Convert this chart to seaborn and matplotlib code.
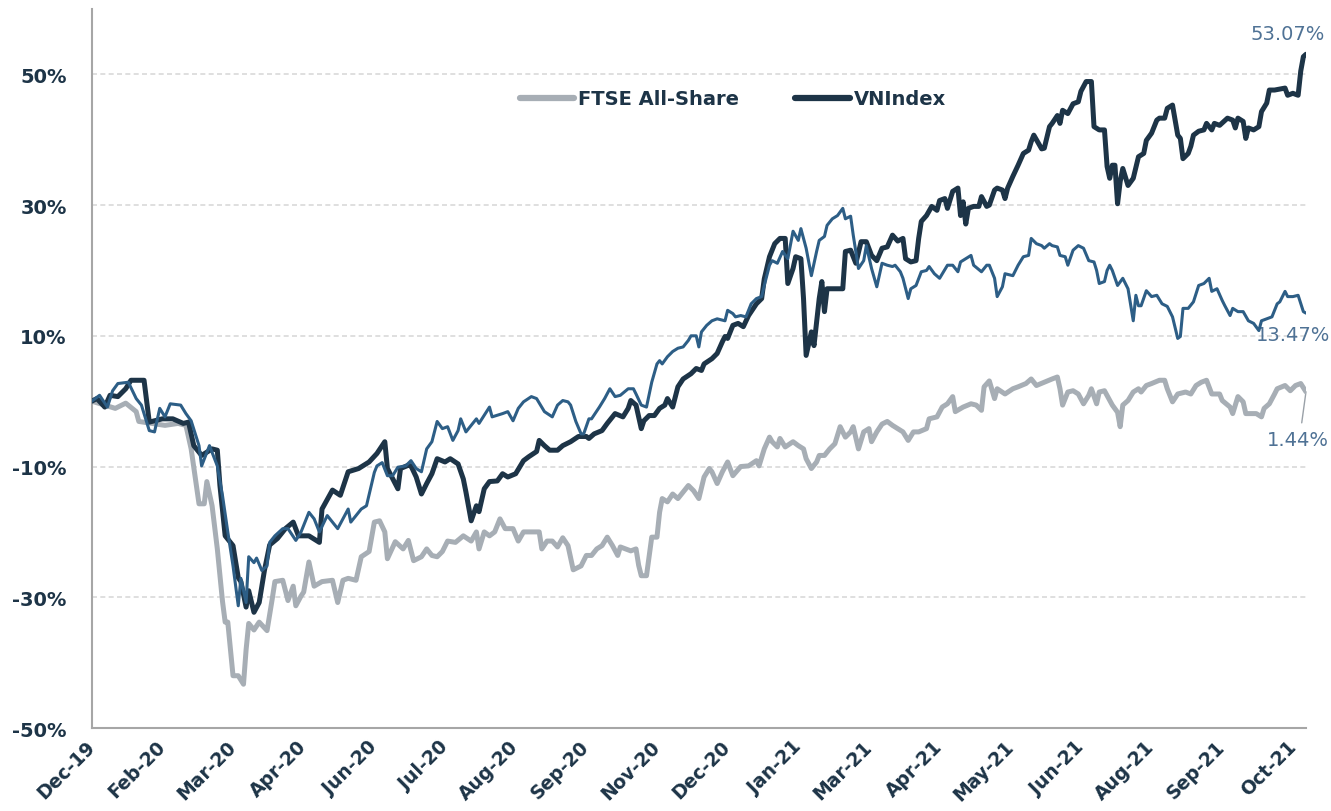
import pandas as pd
import numpy as np
import matplotlib
matplotlib.use("Agg")
import matplotlib.pyplot as plt
import seaborn as sns
from matplotlib.lines import Line2D

# x = trading session index since 31-Dec-2019, y = cumulative return in %
tick_labels = ['Dec-19', 'Feb-20', 'Mar-20', 'Apr-20', 'Jun-20', 'Jul-20', 'Aug-20', 'Sep-20', 'Nov-20',
               'Dec-20', 'Jan-21', 'Mar-21', 'Apr-21', 'May-21', 'Jun-21', 'Aug-21', 'Sep-21', 'Oct-21']
tick_step = 27
y_ticks = [-50, -30, -10, 10, 30, 50]

ftse_pts = [
    (0, 0), (5, -0.6), (9, -1.1), (13, -0.3), (17, -1.6), (18, -3.1), (23, -3.4), (28, -3.7), (33, -3.4),
    (36, -3.7), (38, -7.3), (41, -15.7), (43, -15.7), (44, -12.3), (46, -16), (48, -22.6), (50, -30.7),
    (51, -33.8), (52, -33.8), (54, -42), (56, -42), (58, -43.3), (59, -38), (60, -34), (62, -35), (64, -33.8),
    (67, -35.1), (69, -30.2), (70, -27.6), (73, -27.4), (75, -30.5), (77, -28.3), (78, -31.3), (80, -29.8),
    (81, -29.2), (83, -24.6), (85, -28.3), (88, -27.6), (92, -27.4), (94, -30.8), (96, -27.4), (98, -27.1),
    (101, -27.4), (103, -23.8), (106, -23), (108, -18.5), (110, -18.3), (112, -20), (113, -24.1), (116, -21.5),
    (119, -22.6), (121, -21.3), (123, -24.4), (126, -23.8), (128, -22.6), (130, -23.6), (132, -23.8), (134, -23),
    (136, -21.4), (139, -21.6), (142, -20.6), (145, -21.4), (147, -20), (148, -22.6), (150, -20), (152, -20.6),
    (154, -20), (156, -18), (158, -19.5), (161, -19.5), (163, -21.4), (165, -20), (168, -20), (171, -20),
    (172, -22.6), (174, -21.4), (176, -21.4), (178, -22.3), (180, -20.9), (182, -22.1), (184, -25.8),
    (187, -25.2), (189, -23.6), (191, -23.6), (193, -22.6), (195, -22.1), (197, -20.8), (199, -22.1),
    (201, -23.6), (202, -22.3), (204, -22.6), (206, -22.9), (208, -22.6), (209, -25.1), (210, -26.7),
    (212, -26.7), (214, -20.8), (216, -20.8), (217, -17), (218, -14.9), (220, -15.4), (222, -14.2), (224, -14.9),
    (226, -13.9), (228, -12.9), (230, -13.7), (232, -14.9), (234, -11.6), (236, -10.3), (237, -10.8),
    (239, -12.6), (241, -10.8), (243, -9.3), (245, -11.4), (248, -10), (251, -9.9), (254, -9.1), (255, -9.9),
    (257, -7.3), (259, -5.5), (260, -6.2), (262, -7), (263, -5.7), (265, -7), (268, -6.2), (270, -6.8),
    (272, -7.3), (273, -8.8), (275, -10.3), (277, -9.3), (278, -8.3), (280, -8.3), (282, -7.3), (284, -6.5),
    (286, -3.9), (288, -5.5), (290, -4.7), (291, -3.9), (293, -7.3), (295, -4.7), (297, -4.2), (298, -6.2),
    (300, -4.7), (302, -3.5), (304, -3.1), (306, -3.7), (308, -4.2), (310, -4.7), (312, -6), (314, -4.7),
    (316, -4.7), (319, -4.2), (320, -2.7), (323, -2.4), (325, -0.9), (327, -0.4), (329, 0.7), (330, -1.6),
    (333, -0.9), (336, -0.4), (338, -0.6), (340, -1.4), (341, 2.2), (343, 3.1), (345, 0.4), (346, 1.9),
    (349, 1.1), (352, 1.9), (354, 2.2), (357, 2.7), (359, 3.4), (361, 2.4), (364, 2.9), (367, 3.4), (369, 3.7),
    (370, 1.9), (371, -0.6), (373, 1.4), (375, 1.6), (377, 1.1), (379, -0.4), (381, 0.9), (382, 1.9),
    (384, -0.4), (385, 1.4), (387, 1.6), (390, -0.6), (392, -1.7), (393, -3.9), (394, -0.6), (396, 0.1),
    (398, 1.4), (400, 1.9), (401, 1.4), (403, 2.4), (405, 2.7), (408, 3.2), (410, 3.2), (411, 1.9), (413, -0.1),
    (415, 1.1), (418, 1.4), (420, 1.1), (422, 2.4), (424, 2.9), (426, 3.2), (428, 1.1), (431, 1.1), (432, 0.1),
    (435, -0.9), (436, -1.9), (438, 0.7), (440, -0.1), (441, -1.9), (444, -1.9), (445, -1.9), (447, -2.4),
    (448, -1.1), (450, -0.4), (452, 1.1), (453, 1.9), (456, 2.4), (458, 1.6), (460, 2.4), (462, 2.7),
    (464, 1.44),
]

vni_pts = [
    (0, 0), (2, 0.4), (5, -0.9), (7, 0.9), (10, 0.7), (13, 1.9), (15, 3.2), (20, 3.2), (22, -3.2), (27, -2.7),
    (31, -2.7), (35, -3.4), (37, -3.2), (39, -6.8), (42, -8.3), (46, -7.3), (48, -7.5), (49, -12.9), (51, -20.6),
    (54, -22.1), (56, -27), (57, -27.6), (59, -31.5), (60, -29), (62, -32.3), (64, -30.8), (66, -25.9),
    (68, -22), (71, -21), (74, -19.5), (77, -18.5), (79, -20.6), (83, -20.6), (87, -21.6), (88, -16.5),
    (92, -13.6), (95, -14.4), (98, -10.8), (102, -10.3), (106, -9.3), (109, -8), (112, -6.2), (113, -10.3),
    (117, -13.4), (118, -10.3), (121, -9.8), (122, -9.9), (124, -11.6), (126, -14.2), (128, -12.6),
    (130, -11.1), (132, -8.8), (135, -9.3), (137, -8.8), (140, -9.6), (142, -11.9), (143, -13.9), (145, -18.3),
    (147, -16), (148, -16.9), (150, -13.4), (152, -12.3), (155, -12.2), (157, -11.1), (159, -11.6),
    (162, -11.1), (165, -9.1), (167, -8.5), (170, -7.7), (171, -6), (173, -6.8), (175, -7.5), (178, -7.5),
    (180, -6.8), (183, -6.2), (186, -5.4), (189, -5.4), (190, -5.7), (192, -5), (195, -4.5), (197, -3.4),
    (200, -1.9), (203, -2.4), (205, -1.1), (206, 0.1), (208, -0.6), (210, -4.2), (211, -3), (213, -2.2),
    (215, -2.2), (217, -1.1), (219, -0.6), (220, 0.4), (222, -0.9), (224, 2.2), (226, 3.4), (229, 4.2),
    (231, 5), (233, 4.7), (234, 5.7), (237, 6.5), (239, 7.3), (241, 9.1), (242, 9.9), (243, 9.6), (245, 11.6),
    (247, 11.9), (249, 11.4), (251, 13.1), (254, 14.9), (256, 15.7), (257, 18.7), (259, 22.1), (261, 24.1),
    (263, 24.9), (265, 24.9), (266, 18), (268, 20.3), (269, 22.1), (271, 21.8), (272, 15.7), (273, 7),
    (275, 10.6), (276, 8.5), (278, 15.7), (279, 18.3), (280, 13.7), (281, 17.2), (284, 17.2), (287, 17.2),
    (288, 22.9), (290, 23.1), (292, 21.1), (294, 24.4), (296, 24.4), (298, 22.3), (300, 21.5), (302, 23.4),
    (304, 23.6), (306, 25.4), (308, 24.5), (310, 24.9), (311, 21.8), (313, 21.3), (315, 21.5), (316, 24.9),
    (317, 27.5), (319, 28.4), (321, 29.8), (323, 29.2), (324, 30.7), (326, 31), (327, 29.5), (329, 32.1),
    (331, 32.6), (332, 28.4), (333, 30.5), (334, 27.1), (335, 29.5), (337, 29.8), (339, 29.8), (340, 31.3),
    (342, 29.8), (343, 30), (345, 32.3), (346, 32.6), (348, 32.3), (349, 31), (350, 32.6), (352, 34.4),
    (354, 36.1), (356, 37.9), (358, 38.4), (359, 39.7), (360, 40.7), (363, 38.6), (364, 38.7), (366, 42),
    (367, 42.5), (369, 43.7), (370, 42.5), (371, 44.5), (373, 44), (375, 45.5), (377, 45.8), (378, 47.4),
    (380, 48.9), (382, 48.9), (383, 42), (385, 41.5), (387, 41.5), (388, 35.9), (389, 34.1), (390, 36.1),
    (391, 36.1), (392, 30.2), (393, 33.6), (394, 35.6), (396, 33), (398, 34.1), (400, 37.4), (402, 37.9),
    (403, 39.9), (405, 41), (407, 43), (408, 43.3), (410, 43.3), (411, 44.8), (413, 45.3), (415, 40.7),
    (416, 40.2), (417, 37.1), (419, 37.9), (420, 39), (421, 40.7), (423, 41.3), (425, 41.5), (426, 42.5),
    (428, 41.5), (429, 42.5), (431, 42.2), (434, 43.3), (436, 43), (437, 41.8), (438, 43.3), (440, 42.8),
    (441, 40.2), (442, 41.8), (444, 41.5), (446, 42), (447, 44.3), (449, 45.6), (450, 47.6), (452, 47.6),
    (456, 47.9), (457, 46.8), (459, 47.1), (461, 46.8), (462, 50.5), (463, 52.7), (464, 53.07),
]

other_pts = [
    (0, 0), (3, 0.9), (6, -0.9), (8, 1.6), (10, 2.7), (14, 2.9), (17, 0.4), (19, -0.6), (22, -4.5), (24, -4.7),
    (26, -1.1), (28, -2.4), (30, -0.4), (34, -0.6), (36, -1.9), (38, -3), (41, -6.8), (42, -9.9), (45, -6.8),
    (48, -9.9), (50, -14.5), (52, -20), (54, -25.2), (56, -31.3), (57, -27.1), (59, -30.8), (60, -23.8),
    (62, -24.7), (63, -24), (65, -25.9), (67, -25.2), (68, -21.6), (70, -20.6), (73, -19.5), (75, -19.5),
    (78, -21.3), (80, -20), (83, -17), (85, -18), (87, -20), (90, -17.5), (94, -19.5), (98, -16.5),
    (99, -18.5), (103, -16.5), (105, -16), (108, -10.9), (109, -9.9), (111, -9.4), (113, -11.4), (115, -11.4),
    (117, -10.1), (120, -9.9), (122, -9.1), (124, -10.3), (126, -10.8), (128, -7.3), (130, -6.2), (132, -3.1),
    (134, -4.2), (136, -3.9), (138, -6), (140, -4.5), (141, -2.7), (143, -4.7), (147, -2.7), (148, -3.4),
    (152, -0.9), (153, -2.4), (157, -1.9), (159, -1.6), (161, -3), (163, -1.1), (165, -0.1), (168, 0.7),
    (170, 0.4), (173, -1.6), (176, -2.4), (178, -0.6), (180, 0.1), (182, -0.1), (183, -0.6), (185, -3.1),
    (187, -5), (188, -5), (190, -2.7), (191, -2.7), (194, -0.9), (196, 0.4), (198, 1.9), (200, 0.7), (202, 0.9),
    (205, 1.9), (207, 1.9), (208, 1.1), (210, -0.6), (212, -0.9), (214, 2.9), (216, 5.7), (217, 6.2),
    (218, 5.7), (220, 6.8), (222, 7.6), (224, 8.1), (226, 8.3), (228, 9.3), (229, 10), (231, 10), (232, 8.3),
    (233, 10.6), (235, 11.6), (237, 12.3), (239, 12.6), (242, 12.3), (243, 13.9), (245, 13.4), (246, 12.9),
    (248, 13.1), (250, 12.9), (252, 14.9), (254, 15.7), (256, 16), (257, 17.7), (259, 20.8), (260, 21.5),
    (262, 21.1), (264, 22.9), (266, 21.8), (268, 26), (270, 24.6), (271, 26.4), (273, 23.4), (275, 19.2),
    (277, 22.9), (278, 24.6), (280, 25.2), (281, 26.9), (283, 27.9), (285, 28.4), (287, 29.5), (288, 27.9),
    (290, 28.3), (291, 25.4), (293, 20.3), (295, 21.5), (296, 23.8), (298, 20.3), (300, 17.5), (302, 21.1),
    (304, 20.8), (306, 20.6), (307, 20.8), (309, 19.8), (310, 18.8), (312, 15.7), (313, 17.2), (315, 17.7),
    (317, 19.8), (319, 20), (320, 20.6), (322, 19.5), (324, 18.8), (327, 20.8), (329, 20.8), (331, 19.8),
    (332, 21.3), (334, 21.8), (336, 22.3), (337, 20.8), (340, 19.8), (342, 20.8), (343, 20.8), (345, 18.8),
    (346, 16), (348, 17.5), (349, 19.5), (352, 19.2), (354, 20.8), (356, 22.1), (358, 22.3), (359, 24.9),
    (361, 24.1), (363, 23.8), (364, 23.4), (366, 24.1), (367, 23.8), (369, 23.6), (370, 22.3), (372, 22.1),
    (373, 20.8), (375, 23.1), (377, 23.8), (379, 23.4), (381, 21.5), (383, 21.3), (384, 20), (385, 18),
    (387, 18.3), (388, 20), (389, 20.8), (390, 20), (392, 17.7), (394, 18.8), (396, 17.2), (398, 12.3),
    (399, 16.2), (400, 14.6), (401, 14.6), (403, 16.9), (405, 16), (407, 16.2), (409, 14.9), (411, 14.5),
    (413, 12.9), (415, 9.6), (416, 9.9), (417, 14.2), (419, 14.2), (421, 15.2), (423, 17.7), (425, 18),
    (427, 18.8), (428, 16.8), (430, 17.2), (432, 15.4), (433, 14.6), (435, 13.1), (436, 14.2), (438, 13.7),
    (440, 13.7), (442, 12.3), (444, 11.9), (446, 10.8), (447, 12.3), (449, 12.6), (451, 12.9), (453, 14.9),
    (454, 15.2), (456, 16.8), (457, 16), (459, 16), (461, 16.2), (463, 13.7), (464, 13.47),
]

ftse = pd.DataFrame(ftse_pts, columns=['day', 'ret'])
vni = pd.DataFrame(vni_pts, columns=['day', 'ret'])
other = pd.DataFrame(other_pts, columns=['day', 'ret'])

gray = '#a7aeb5'
navy = '#1d3447'
blue = '#2d5e86'
txt = '#1d3447'
ann = '#4f7295'

sns.set_theme(style='white')
plt.rcParams['font.family'] = ['DejaVu Sans']

fig = plt.figure(figsize=(13.31, 8.12), dpi=100)
ax = fig.add_axes([0.0689, 0.1022, 0.9123, 0.8855])

ax.grid(axis='y', color='#d9d9d9', linestyle=(0, (3, 2)), linewidth=1.2)
ax.set_axisbelow(True)

sns.lineplot(data=ftse, x='day', y='ret', ax=ax, color=gray, linewidth=3.6, estimator=None, sort=False,
             legend=False, solid_joinstyle='round', zorder=3)
sns.lineplot(data=vni, x='day', y='ret', ax=ax, color=navy, linewidth=3.6, estimator=None, sort=False,
             legend=False, solid_joinstyle='round', zorder=4)
sns.lineplot(data=other, x='day', y='ret', ax=ax, color=blue, linewidth=2.2, estimator=None, sort=False,
             legend=False, solid_joinstyle='round', zorder=5)

ax.set_xlim(0, ftse['day'].max())
ax.set_ylim(-50, 60)

ax.set_xticks(np.arange(len(tick_labels)) * tick_step)
ax.set_xticklabels(tick_labels, rotation=45, ha='right', va='center', rotation_mode='anchor',
                   fontsize=13.5, fontweight='bold', color=txt)
ax.set_yticks(y_ticks)
ax.set_yticklabels([f'{v}%' for v in y_ticks], fontsize=14, fontweight='bold', color=txt)
ax.tick_params(axis='x', length=5, width=1.3, color='#a6a6a6', pad=6)
ax.tick_params(axis='y', length=0, pad=18)
ax.set_xlabel('')
ax.set_ylabel('')

for s in ['top', 'right']:
    ax.spines[s].set_visible(False)
for s in ['left', 'bottom']:
    ax.spines[s].set_color('#a6a6a6')
    ax.spines[s].set_linewidth(1.5)

handles = [Line2D([], [], color=gray, linewidth=4.5), Line2D([], [], color=navy, linewidth=4.5)]
leg = ax.legend(handles, ['FTSE All-Share', 'VNIndex'], loc='center', bbox_to_anchor=(0.528, 0.875),
                ncol=2, frameon=False, handlelength=2.8, handletextpad=0.2, columnspacing=2.9,
                prop={'weight': 'bold', 'size': 14})
for t in leg.get_texts():
    t.set_color(txt)

# end-value labels
ax.annotate(f"{vni['ret'].iloc[-1]:.2f}%", xy=(457, 56.3), ha='center', va='center',
            fontsize=14, color=ann, annotation_clip=False, zorder=2)
ax.annotate(f"{other['ret'].iloc[-1]:.2f}%", xy=(459, 10.2), ha='center', va='center',
            fontsize=14, color=ann, annotation_clip=False, zorder=2)
ax.annotate(f"{ftse['ret'].iloc[-1]:.2f}%", xy=(ftse['day'].iloc[-1], ftse['ret'].iloc[-1]),
            xytext=(460.8, -5.9), ha='center', va='center', fontsize=14, color=ann,
            annotation_clip=False, zorder=2,
            arrowprops=dict(arrowstyle='-', color='#9aa1a8', lw=1, shrinkA=3, shrinkB=0,
                            relpos=(0.55, 1.0)))

fig.savefig('out.png', dpi=100)
